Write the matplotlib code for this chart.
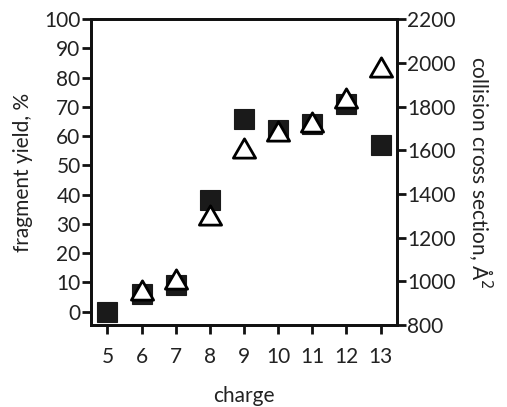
import matplotlib
matplotlib.use("Agg")
import matplotlib.pyplot as plt
from matplotlib.path import Path

charge_sq = [5, 6, 7, 8, 9, 10, 11, 12, 13]
fragment_yield = [0, 6, 9, 38, 66, 62, 64, 71, 57]
charge_tri = [6, 7, 8, 9, 10, 11, 12, 13]
ccs = [959, 1011, 1305, 1610, 1689, 1728, 1841, 1983]

x_ticks = [5, 6, 7, 8, 9, 10, 11, 12, 13]
left_ticks = [0, 10, 20, 30, 40, 50, 60, 70, 80, 90, 100]
right_ticks = [800, 1000, 1200, 1400, 1600, 1800, 2000, 2200]

plt.rcParams['font.family'] = ['Lato', 'DejaVu Sans']
fs = 15
tc = '#222222'

fig = plt.figure(figsize=(5.07, 4.07), dpi=100)
ax = fig.add_axes([0.1795, 0.2015, 0.6035, 0.7515])
ax2 = ax.twinx()

ax.plot(charge_sq, fragment_yield, linestyle='none', marker='s', ms=14.5,
        mfc='#1a1a1a', mec='#1a1a1a', mew=0.8, zorder=3)
tri = Path([(-1, -0.866), (1, -0.866), (0, 0.866), (-1, -0.866)],
           [Path.MOVETO, Path.LINETO, Path.LINETO, Path.CLOSEPOLY])
ax2.plot(charge_tri, ccs, linestyle='none', marker=tri, ms=16,
         mfc='white', mec='black', mew=2.0, zorder=3)

ax.set_xlim(4.52, 13.48)
ax.set_ylim(-4.6, 100)
ax2.set_ylim(800, 2200)
ax.set_xticks(x_ticks)
ax.set_yticks(left_ticks)
ax2.set_yticks(right_ticks)

for a in (ax, ax2):
    for s in a.spines.values():
        s.set_linewidth(2.0)
        s.set_color('#111111')
ax.tick_params(axis='x', direction='out', length=6.5, width=2, labelsize=fs, pad=9,
               colors='#111111', labelcolor=tc)
ax.tick_params(axis='y', direction='out', length=6.5, width=2, labelsize=fs, pad=1,
               colors='#111111', labelcolor=tc)
ax2.tick_params(axis='y', direction='out', length=6.5, width=2, labelsize=fs, pad=1,
                colors='#111111', labelcolor=tc)

ax.set_xlabel('charge', fontsize=fs, labelpad=14, color=tc)
ax.set_ylabel('fragment yield, %', fontsize=fs, labelpad=8, color=tc)
ax2.set_ylabel('collision cross section, Å$^2$', fontsize=fs, rotation=-90,
               labelpad=8, va='bottom', color=tc)

fig.savefig('out.png', dpi=100)
